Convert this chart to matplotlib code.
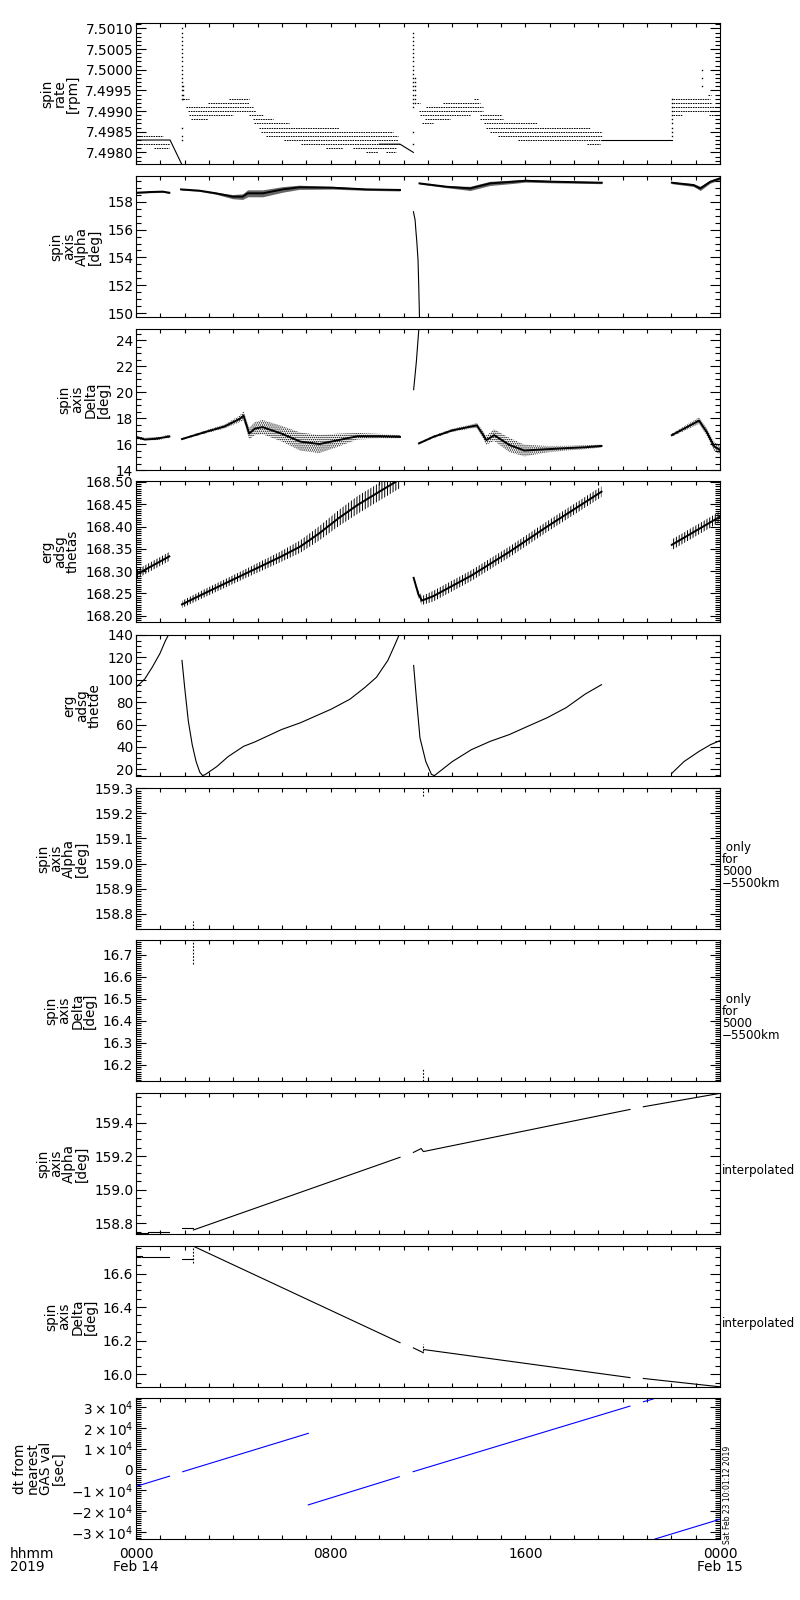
import numpy as np
import matplotlib
matplotlib.use('Agg')
import matplotlib.pyplot as plt
from matplotlib.ticker import MultipleLocator, FormatStrFormatter, FuncFormatter

plt.rcParams['font.family'] = ['DejaVu Sans']
plt.rcParams['font.size'] = 9.8
plt.rcParams['axes.linewidth'] = 0.8
plt.rcParams['hatch.linewidth'] = 0.7

# ---------------- data (time in hours since 2019-02-14 00:00) ----------------
# panel 1: spin rate, quantised levels (start h, end h, rpm)
rate_lvl_t0 = [0.00, 0.00, 0.75, 1.92, 2.95, 3.84, 2.05, 2.12, 2.19, 4.66, 2.26, 4.79, 4.86,
               5.07, 5.14, 5.34, 6.10, 6.78, 7.81, 8.90, 9.45, 10.27,
               11.54, 11.92, 12.63, 13.90, 11.65, 11.67, 14.14, 11.88, 14.14, 11.74, 14.31,
               14.39, 14.55, 14.89, 15.71, 18.52,
               22.06, 22.06, 22.06, 22.06, 22.06, 23.55, 23.50]
rate_lvl_t1 = [1.10, 1.40, 1.37, 2.19, 4.66, 4.66, 4.79, 4.93, 3.97, 5.21, 2.95, 5.62, 6.30,
               8.36, 10.58, 10.78, 10.78, 10.85, 8.49, 10.70, 9.93, 10.70,
               11.67, 14.28, 14.14, 14.04, 14.28, 13.73, 15.03, 12.91, 15.10, 12.22, 16.47,
               18.66, 19.14, 19.14, 19.14, 19.07,
               23.59, 23.66, 24.00, 24.00, 22.43, 24.00, 23.62]
rate_lvl_val = [7.4984, 7.4982, 7.4981, 7.4993, 7.4992, 7.4993, 7.4991, 7.4990, 7.4989, 7.4989,
                7.4988, 7.4988, 7.4987, 7.4986, 7.4985, 7.4984, 7.4983, 7.4982, 7.4981, 7.4981,
                7.4980, 7.4980,
                7.4992, 7.4991, 7.4992, 7.4993, 7.4990, 7.4989, 7.4989, 7.4988, 7.4988, 7.4987,
                7.4987, 7.4986, 7.4985, 7.4984, 7.4983, 7.4982,
                7.4993, 7.4992, 7.4991, 7.4990, 7.4989, 7.4989, 7.4994]
# solid connecting pieces across gaps
rate_gap1_t = [0.00, 1.40, 1.89]
rate_gap1_v = [7.4983, 7.4983, 7.4977]
rate_gap2_t = [10.00, 10.85, 11.40]
rate_gap2_v = [7.4982, 7.4982, 7.4980]
rate_gap3_t = [19.14, 22.02]
rate_gap3_v = [7.4983, 7.4983]
# isolated sample columns (time, values)
spike_t = [1.89, 1.95, 11.40, 11.47, 22.02, 23.25]
spike_v = [
    [7.5010, 7.5009, 7.5008, 7.5007, 7.5006, 7.5005, 7.5004, 7.5003, 7.5002, 7.5001, 7.5000,
     7.4999, 7.4998, 7.4997, 7.4996, 7.4995, 7.4994, 7.4993, 7.4986, 7.4984, 7.4983],
    [7.4996, 7.4995, 7.4994, 7.4993],
    [7.5009, 7.5008, 7.5007, 7.5006, 7.5005, 7.5004, 7.5003, 7.5002, 7.5001, 7.5000, 7.4999,
     7.4998, 7.4997, 7.4996, 7.4995, 7.4994, 7.4993, 7.4992, 7.4991, 7.4985, 7.4982],
    [7.4998, 7.4997, 7.4996, 7.4995, 7.4994, 7.4993, 7.4992],
    [7.4984, 7.4985, 7.4986, 7.4987, 7.4988, 7.4989, 7.4990, 7.4991, 7.4992, 7.4993],
    [7.5000, 7.4998, 7.4996],
]

# panel 2: spin axis alpha (segments: time, centre, half spread)
alpha_t = [[0.00, 0.55, 1.10, 1.37],
           [1.85, 2.60, 3.29, 3.97, 4.38, 4.59, 5.21, 6.03, 6.71, 8.08, 9.45, 10.85],
           [11.65, 12.77, 13.73, 14.00, 14.55, 15.51, 16.00, 17.15, 19.14],
           [22.02, 22.91, 23.19, 23.60, 24.00]]
alpha_v = [[158.64, 158.69, 158.72, 158.64],
           [158.88, 158.79, 158.60, 158.36, 158.36, 158.60, 158.60, 158.88, 159.03, 159.00, 158.88, 158.84],
           [159.31, 159.07, 158.95, 159.07, 159.31, 159.43, 159.50, 159.43, 159.36],
           [159.36, 159.19, 158.95, 159.43, 159.67]]
alpha_s = [[0.05, 0.05, 0.05, 0.05],
           [0.05, 0.05, 0.07, 0.15, 0.20, 0.25, 0.25, 0.20, 0.15, 0.10, 0.07, 0.07],
           [0.05, 0.07, 0.15, 0.15, 0.15, 0.12, 0.10, 0.08, 0.07],
           [0.07, 0.10, 0.15, 0.10, 0.10]]
alpha_jump_t = [11.40, 11.47, 11.50, 11.54, 11.59, 11.62, 11.65]
alpha_jump_v = [157.28, 156.69, 155.97, 155.14, 153.82, 151.91, 149.70]

# panel 3: spin axis delta
delta_t = [[0.00, 0.36, 0.80, 1.37],
           [1.89, 2.86, 3.64, 4.26, 4.42, 4.65, 4.88, 5.20, 5.98, 6.76, 7.54, 8.32, 9.10, 10.00, 10.85],
           [11.63, 12.22, 13.00, 13.78, 14.01, 14.40, 14.72, 15.34, 15.96, 16.90, 17.68, 18.46, 19.13],
           [22.02, 22.52, 23.14, 23.45, 23.77, 24.00]]
delta_v = [[16.55, 16.35, 16.40, 16.58],
           [16.38, 16.93, 17.35, 17.93, 18.18, 16.80, 17.18, 17.30, 16.80, 16.18, 16.00, 16.30, 16.60, 16.60, 16.55],
           [16.05, 16.55, 17.05, 17.35, 17.43, 16.30, 16.68, 15.93, 15.50, 15.60, 15.68, 15.75, 15.85],
           [16.68, 17.18, 17.80, 16.93, 15.80, 15.55]]
delta_s = [[0.12, 0.12, 0.12, 0.12],
           [0.06, 0.12, 0.15, 0.25, 0.35, 0.45, 0.50, 0.55, 0.60, 0.70, 0.70, 0.50, 0.25, 0.18, 0.14],
           [0.06, 0.10, 0.12, 0.15, 0.20, 0.35, 0.45, 0.55, 0.45, 0.25, 0.18, 0.15, 0.12],
           [0.12, 0.18, 0.25, 0.30, 0.35, 0.35]]
delta_jump_t = [11.41, 11.52, 11.63]
delta_jump_v = [20.18, 22.30, 25.00]

# panel 4: erg adsg thetas
thetas_t = [[0.00, 1.37],
            [1.89, 2.86, 4.42, 5.98, 6.76, 7.54, 8.32, 9.10, 9.88, 10.85],
            [11.41, 11.60, 11.75, 12.22, 13.78, 15.34, 16.90, 19.13],
            [22.02, 24.00]]
thetas_v = [[168.292, 168.333],
            [168.2255, 168.2515, 168.2923, 168.3331, 168.3554, 168.3851, 168.4184, 168.4481, 168.4741, 168.5060],
            [168.285, 168.249, 168.234, 168.244, 168.290, 168.343, 168.400, 168.478],
            [168.359, 168.422]]
thetas_s = [[0.010, 0.010],
            [0.008, 0.009, 0.010, 0.012, 0.014, 0.016, 0.018, 0.020, 0.020, 0.020],
            [0.002, 0.008, 0.010, 0.012, 0.012, 0.012, 0.012, 0.012],
            [0.012, 0.012]]

# panel 5: erg adsg thetde
thetde_t = [[0.00, 0.36, 0.67, 0.98, 1.22, 1.36],
            [1.89, 2.00, 2.15, 2.31, 2.47, 2.62, 2.74, 2.86, 3.32, 3.79, 4.42, 4.88, 5.98, 6.76,
             7.54, 8.01, 8.79, 9.41, 9.88, 10.35, 10.66, 10.83],
            [11.41, 11.52, 11.67, 11.91, 12.14, 12.26, 13.00, 13.78, 14.56, 15.34, 16.12, 16.90,
             17.68, 18.46, 19.13],
            [22.02, 22.52, 23.14, 23.61, 24.00]]
thetde_v = [[93.2, 100.7, 111.3, 123.3, 135.4, 141.0],
            [117.3, 93.2, 63.1, 42.0, 26.9, 17.5, 14.3, 15.5, 22.4, 31.4, 40.5, 44.4, 55.5, 61.6,
             69.1, 73.6, 82.6, 93.2, 102.2, 117.3, 132.3, 141.0],
            [112.8, 84.2, 48.0, 26.9, 15.5, 14.3, 26.9, 37.5, 45.0, 51.0, 58.6, 66.1, 75.1, 87.2, 95.6],
            [16.4, 26.9, 36.0, 42.0, 45.6]]

# panel 6/7: only for 5000-5500 km (short vertical sample runs: time, v0, v1)
alpha_r_t = [2.36, 11.81]
alpha_r_v0 = [158.74, 159.27]
alpha_r_v1 = [158.77, 159.31]
delta_r_t = [2.36, 11.81]
delta_r_v0 = [16.66, 16.127]
delta_r_v1 = [16.77, 16.18]

# panel 8: interpolated alpha
alpha_i_t = [[0.00, 0.50, 0.50, 1.37], [1.89, 2.36], [2.36, 10.85],
             [11.40, 11.72, 11.81, 20.30], [20.85, 24.00]]
alpha_i_v = [[158.740, 158.740, 158.750, 158.750], [158.770, 158.770], [158.760, 159.193],
             [159.222, 159.245, 159.227, 159.478], [159.494, 159.574]]
# panel 9: interpolated delta
delta_i_t = [[0.00, 0.23, 0.23, 1.37], [1.89, 2.36], [2.40, 10.85],
             [11.40, 11.81], [11.83, 20.30], [20.85, 24.00]]
delta_i_v = [[16.704, 16.704, 16.696, 16.696], [16.686, 16.686], [16.760, 16.188],
             [16.157, 16.128], [16.147, 15.980], [15.975, 15.925]]
delta_i_mark_t = [2.36, 11.81]
delta_i_mark_v0 = [16.66, 16.14]
delta_i_mark_v1 = [16.76, 16.18]

# panel 10: dt from nearest GAS value [s]
dt_t = [[0.00, 1.38], [1.92, 7.08], [7.08, 10.82], [11.39, 20.30], [20.85, 21.25], [21.33, 24.00]]
dt_v = [[-8200, -3280], [-1150, 17300], [-17100, -3550], [-1130, 30400], [32500, 33800], [-33500, -24000]]

# axis settings
ylabels = ['spin\nrate\n[rpm]', 'spin\naxis\nAlpha\n[deg]', 'spin\naxis\nDelta\n[deg]',
           'erg\nadsg\nthetas', 'erg\nadsg\nthetde', 'spin\naxis\nAlpha\n[deg]',
           'spin\naxis\nDelta\n[deg]', 'spin\naxis\nAlpha\n[deg]', 'spin\naxis\nDelta\n[deg]',
           'dt from\nnearest\nGAS val\n[sec]']
ylims = [(7.49772, 7.50113), (149.73, 159.84), (14.0, 24.85), (168.186, 168.502), (14.0, 140.0),
         (158.74, 159.30), (16.127, 16.768), (158.736, 159.576), (15.924, 16.764), (-33500, 34300)]
ymajor = [0.0005, 2, 2, 0.05, 20, 0.1, 0.1, 0.2, 0.2, 10000]
yminor = [0.0001, 0.5, 0.5, 0.005, 5, 0.01, 0.01, 0.05, 0.05, 1000]
yfmt = ['%.4f', '%d', '%d', '%.2f', '%d', '%.1f', '%.1f', '%.1f', '%.1f', None]
right_notes = [None, None, None, None, None, ' only\nfor\n5000\n\u22125500km', ' only\nfor\n5000\n\u22125500km',
               'interpolated', 'interpolated', None]
xtick_pos = [0, 8, 16, 24]
xtick_lab = ['0000\nFeb 14', '0800', '1600', '0000\nFeb 15']

# ---------------- figure ----------------
fig = plt.figure(figsize=(8, 16), dpi=100)
tops = [23, 176, 329, 481, 635, 788, 940, 1093, 1246, 1398]
axes = [fig.add_axes([136 / 800, 1 - (t + 141) / 1600, 584 / 800, 141 / 1600]) for t in tops]

LW = 0.8
dash = (0, (1.6, 0.9))

ax = axes[0]
for t0, t1, v in zip(rate_lvl_t0, rate_lvl_t1, rate_lvl_val):
    ax.plot([t0, t1], [v, v], color='k', lw=0.7, ls=dash)
for tt, vv in [(rate_gap1_t, rate_gap1_v), (rate_gap2_t, rate_gap2_v), (rate_gap3_t, rate_gap3_v)]:
    ax.plot(tt, vv, color='k', lw=LW)
for t, vals in zip(spike_t, spike_v):
    ax.plot([t] * len(vals), vals, 's', color='k', ms=1.0, mew=0)


def band(ax, ts, vs, ss, hatch=None, alpha=0.6):
    for t, v, s in zip(ts, vs, ss):
        t = np.array(t); v = np.array(v); s = np.array(s)
        if hatch:
            ax.fill_between(t, v - s, v + s, facecolor='none', edgecolor='k', hatch=hatch, lw=0)
        else:
            ax.fill_between(t, v - s, v + s, color='k', alpha=alpha, lw=0)
        ax.plot(t, v, color='k', lw=1.4)


band(axes[1], alpha_t, alpha_v, alpha_s)
axes[1].plot(alpha_jump_t, alpha_jump_v, color='k', lw=LW)

band(axes[2], delta_t, delta_v, delta_s, hatch='........')
axes[2].plot(delta_jump_t, delta_jump_v, color='k', lw=LW)

band(axes[3], thetas_t, thetas_v, thetas_s, hatch='||||||')

for t, v in zip(thetde_t, thetde_v):
    axes[4].plot(t, v, color='k', lw=LW)

for t, a, b in zip(alpha_r_t, alpha_r_v0, alpha_r_v1):
    axes[5].plot([t, t], [a, b], color='k', lw=LW, ls=(0, (1.5, 1.5)))
for t, a, b in zip(delta_r_t, delta_r_v0, delta_r_v1):
    axes[6].plot([t, t], [a, b], color='k', lw=LW, ls=(0, (1.5, 1.5)))

for t, v in zip(alpha_i_t, alpha_i_v):
    axes[7].plot(t, v, color='k', lw=LW)
for t, v in zip(delta_i_t, delta_i_v):
    axes[8].plot(t, v, color='k', lw=LW)
for t, a, b in zip(delta_i_mark_t, delta_i_mark_v0, delta_i_mark_v1):
    axes[8].plot([t, t], [a, b], color='k', lw=LW, ls=(0, (1.5, 1.5)))

for t, v in zip(dt_t, dt_v):
    axes[9].plot(t, v, color='#0000ff', lw=LW)


def dt_fmt(v, pos):
    if abs(v) < 1:
        return '0'
    return r'$%d\times10^{4}$' % round(v / 1e4)


for i, ax in enumerate(axes):
    ax.set_xlim(0, 24)
    ax.set_ylim(*ylims[i])
    ax.xaxis.set_major_locator(MultipleLocator(8))
    ax.xaxis.set_minor_locator(MultipleLocator(1))
    ax.yaxis.set_major_locator(MultipleLocator(ymajor[i]))
    ax.yaxis.set_minor_locator(MultipleLocator(yminor[i]))
    if yfmt[i]:
        ax.yaxis.set_major_formatter(FormatStrFormatter(yfmt[i]))
    else:
        ax.yaxis.set_major_formatter(FuncFormatter(dt_fmt))
    ax.tick_params(which='both', direction='in', top=True, right=True, width=0.8)
    ax.tick_params(axis='x', which='both', length=3.2)
    ax.tick_params(axis='y', which='major', length=7, pad=2)
    ax.tick_params(axis='y', which='minor', length=3.5)
    ax.set_ylabel(ylabels[i], linespacing=0.9, labelpad=4)
    if right_notes[i]:
        ax.text(1.003, 0.45, right_notes[i], transform=ax.transAxes, ha='left', va='center',
                linespacing=0.9, fontsize=8.6)
    if i < 9:
        ax.tick_params(axis='x', labelbottom=False)
    else:
        ax.set_xticks(xtick_pos)
        ax.set_xticklabels(xtick_lab, linespacing=0.9)
        ax.tick_params(axis='x', pad=6)

fig.text(10 / 800, 1 - 1547 / 1600, 'hhmm\n2019', ha='left', va='top', linespacing=0.9)
fig.text(727 / 800, 1 - 1495 / 1600, 'Sat Feb 23 10:01:12 2019', rotation=90, ha='center',
         va='center', fontsize=5.5)

fig.savefig('out.png', dpi=100)
